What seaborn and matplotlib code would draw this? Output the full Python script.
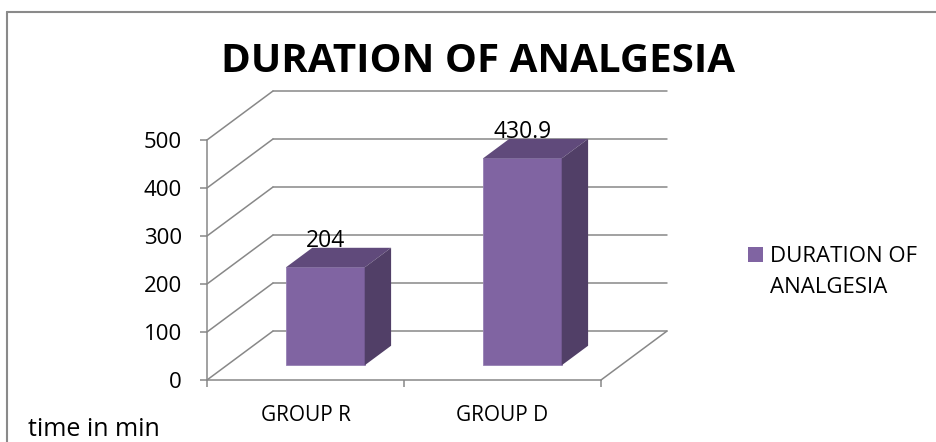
import numpy as np
import pandas as pd
import matplotlib.pyplot as plt
import seaborn as sns
from matplotlib.patches import Polygon, Rectangle
from matplotlib.lines import Line2D

groups = ["GROUP R", "GROUP D"]
duration = [204, 430.9]
value_labels = ["204", "430.9"]
y_ticks = [0, 100, 200, 300, 400, 500]
series_name = "DURATION OF ANALGESIA"

df = pd.DataFrame({"group": groups, "minutes": duration})

sns.set_style("white")
plt.rcParams["font.family"] = ["Open Sans", "DejaVu Sans"]
plt.rcParams["text.color"] = "black"
plt.rcParams["xtick.labelcolor"] = "black"
plt.rcParams["ytick.labelcolor"] = "black"

W, H = 936, 442
fig = plt.figure(figsize=(W / 100, H / 100), dpi=100)


def px_box(x0, y0, x1, y1):
    # pixel box (top-left origin) -> figure fraction
    return [x0 / W, 1 - y1 / H, (x1 - x0) / W, (y1 - y0) / H]


ax = fig.add_axes(px_box(207, 91, 667, 380))

grid_c = "#888888"
front_c, top_c, side_c = "#8064A2", "#604A7B", "#513F67"

# oblique depth of the walls (data units) and where the bars sit inside it
dx, dy = 0.335, 102
f_front, f_depth = 0.3, 0.4

sns.barplot(data=df, x="group", y="minutes", width=0.4, color=front_c,
            saturation=1, ax=ax, zorder=3, edgecolor="#9680b4", linewidth=0.6)

ax.set_xlim(-0.5, 1.5 + dx)
ax.set_ylim(0, max(y_ticks) + dy)

# back wall + side wall lines
for v in y_ticks:
    ax.plot([-0.5 + dx, 1.5 + dx], [v + dy, v + dy], color=grid_c, lw=1.1,
            zorder=1, clip_on=False)
    ax.plot([-0.5, -0.5 + dx], [v, v + dy], color=grid_c, lw=1.1,
            zorder=1, clip_on=False)
ax.plot([1.5, 1.5 + dx], [0, dy], color=grid_c, lw=1.1, zorder=1, clip_on=False)

# push bars into the depth and give them a top and side
bdx, bdy = f_depth * dx, f_depth * dy
for p, lab in zip(ax.patches, value_labels):
    x0 = p.get_x() + f_front * dx
    y0 = f_front * dy
    w, h = p.get_width(), p.get_height()
    p.set_x(x0)
    p.set_y(y0)
    top = Polygon([(x0, y0 + h), (x0 + w, y0 + h),
                   (x0 + w + bdx, y0 + h + bdy), (x0 + bdx, y0 + h + bdy)],
                  closed=True, fc=top_c, ec="none", zorder=3, clip_on=False)
    side = Polygon([(x0 + w, y0), (x0 + w + bdx, y0 + bdy),
                    (x0 + w + bdx, y0 + h + bdy), (x0 + w, y0 + h)],
                   closed=True, fc=side_c, ec="none", zorder=3, clip_on=False)
    ax.add_patch(top)
    ax.add_patch(side)
    ax.text(x0 + w / 2, y0 + h + bdy + 15, lab, ha="center", va="center",
            fontsize=16.5, zorder=5)

sns.despine(ax=ax, top=True, right=True)
for s in ["left", "bottom"]:
    ax.spines[s].set_color(grid_c)
    ax.spines[s].set_linewidth(1.1)
ax.spines["left"].set_bounds(0, max(y_ticks))
ax.spines["bottom"].set_bounds(-0.5, 1.5)

ax.set_yticks(y_ticks)
ax.tick_params(axis="y", length=5, width=1.1, color=grid_c, pad=13,
               labelsize=16, left=True)
ax.set_xticks([-0.5, 0.5, 1.5], minor=True)
ax.tick_params(axis="x", which="minor", length=5, width=1.1, color=grid_c,
               bottom=True)
ax.tick_params(axis="x", which="major", length=0, pad=18, labelsize=15)
ax.set_xlabel("")
ax.set_ylabel("")

fig.text(478 / W, 1 - 62 / H, series_name, ha="center", va="center",
         fontsize=29, fontweight="bold")
fig.text(28 / W, 1 - 429 / H, "time in min", ha="left", va="center",
         fontsize=18)

# legend entry
fig.add_artist(Rectangle((748 / W, 1 - 262 / H), 15 / W, 15 / H,
                         fc=front_c, ec="none", transform=fig.transFigure))
fig.text(770 / W, 1 - 246 / H, "DURATION OF\nANALGESIA", ha="left", va="top",
         fontsize=16, linespacing=1.65)

# chart frame
fig.add_artist(Line2D([7 / W, 1], [1 - 12 / H, 1 - 12 / H], color="#8a8a8a",
                      lw=1.5, transform=fig.transFigure))
fig.add_artist(Line2D([7 / W, 7 / W], [0, 1 - 12 / H], color="#8a8a8a",
                      lw=1.5, transform=fig.transFigure))

fig.savefig("out.png", dpi=100)
